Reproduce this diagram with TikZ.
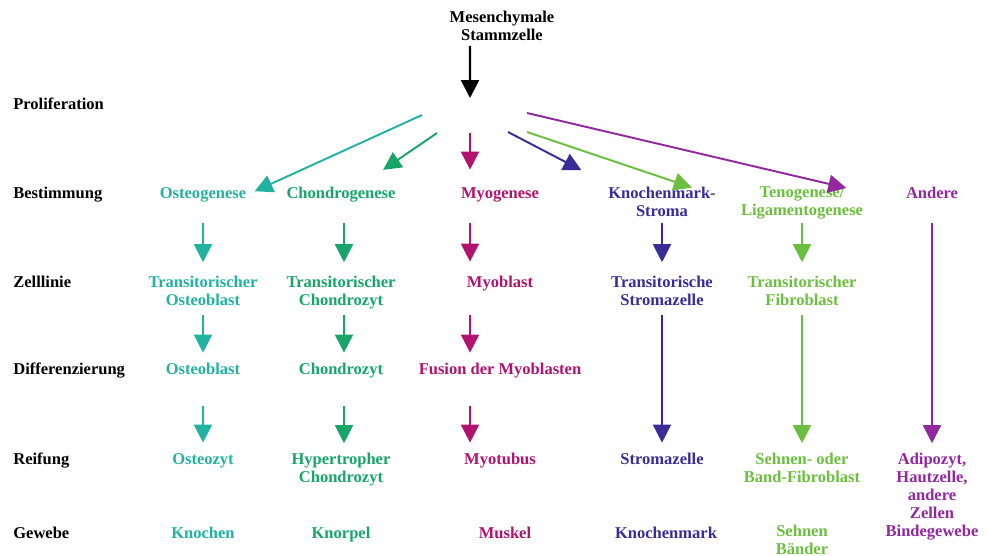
\documentclass[tikz,border=0pt]{standalone}
\usepackage{fontspec}
\setmainfont{Liberation Serif}
\usetikzlibrary{arrows.meta}
\definecolor{OstTeal}{HTML}{22B2A2}
\definecolor{ChoGreen}{HTML}{18A56A}
\definecolor{MyoRed}{HTML}{B0146F}
\definecolor{KmBlue}{HTML}{3A2C98}
\definecolor{TenGreen}{HTML}{6CBF3E}
\definecolor{AndPurple}{HTML}{9228A0}

\tikzset{
  stage/.style={font=\fontsize{9.4}{10.25}\selectfont\bfseries,inner sep=0pt,align=center,
    yshift=-0.04cm,execute at begin node=\strut,execute at end node=\strut},
  rowlabel/.style={stage,anchor=west},
  arr/.style={line width=1.1pt,-{Triangle[length=0.36cm,width=0.36cm]}},
}

\begin{document}
\begin{tikzpicture}[x=0.02cm,y=-0.02cm]
\path[use as bounding box] (0,0) rectangle (987,555);
% stages
\node[rowlabel] (lProl) at (13,104) {Proliferation};
\node[rowlabel] (lBest) at (13,193) {Bestimmung};
\node[rowlabel] (lZell) at (13,282) {Zelllinie};
\node[rowlabel] (lDiff) at (13,369) {Differenzierung};
\node[rowlabel] (lReif) at (13,459) {Reifung};
\node[rowlabel] (lGew) at (13,533) {Gewebe};

\node[stage] (stem) at (502,26) {Mesenchymale\\Stammzelle};
\coordinate (hub) at (470,98);
\draw[arr,line width=1.3pt] ([xshift=-0.64cm]stem.south) -- (hub);

% Bestimmung
\node[stage,OstTeal] (osteo) at (203,193) {Osteogenese};
\node[stage,ChoGreen] (chondro) at (341,193) {Chondrogenese};
\node[stage,MyoRed] (myo) at (500,193) {Myogenese};
\node[stage,KmBlue] (kmstroma) at (662,202) {Knochenmark-\\Stroma};
\node[stage,TenGreen] (teno) at (802,202) {Tenogenese/\\Ligamentogenese};
\node[stage,AndPurple] (andere) at (932,193) {Andere};

% Zelllinie
\node[stage,OstTeal] (osteoZ) at (203,291) {Transitorischer\\Osteoblast};
\node[stage,ChoGreen] (chondroZ) at (341,291) {Transitorischer\\Chondrozyt};
\node[stage,MyoRed] (myoZ) at (500,282) {Myoblast};
\node[stage,KmBlue] (kmZ) at (662,291) {Transitorische\\Stromazelle};
\node[stage,TenGreen] (tenoZ) at (802,291) {Transitorischer\\Fibroblast};

% Differenzierung
\node[stage,OstTeal] (osteoD) at (203,369) {Osteoblast};
\node[stage,ChoGreen] (chondroD) at (341,369) {Chondrozyt};
\node[stage,MyoRed] (myoD) at (500,369) {Fusion der Myoblasten};

% Reifung
\node[stage,OstTeal] (osteoR) at (203,459) {Osteozyt};
\node[stage,ChoGreen] (chondroR) at (341,468) {Hypertropher\\Chondrozyt};
\node[stage,MyoRed] (myoR) at (500,459) {Myotubus};
\node[stage,KmBlue] (kmR) at (662,459) {Stromazelle};
\node[stage,TenGreen] (tenoR) at (802,468) {Sehnen- oder\\Band-Fibroblast};
\node[stage,AndPurple] (andR) at (932,495) {Adipozyt,\\Hautzelle,\\andere\\Zellen\\Bindegewebe};

% Gewebe
\node[stage,OstTeal] (osteoG) at (203,533) {Knochen};
\node[stage,ChoGreen] (chondroG) at (341,533) {Knorpel};
\node[stage,MyoRed] (myoG) at (505,533) {Muskel};
\node[stage,KmBlue] (kmG) at (666,533) {Knochenmark};
\node[stage,TenGreen] (tenoG) at (802,540) {Sehnen\\B\"ander};

% Proliferation
\coordinate (pOst) at (422,115);
\coordinate (pCho) at (437,133);
\coordinate (pMyo) at (470,133);
\coordinate (pKm) at (508,132);
\coordinate (pTen) at (527,132);
\coordinate (pAnd) at (527,113);
\draw[arr,OstTeal,shorten >=0.18cm] (pOst) -- (osteo.east);
\draw[arr,ChoGreen,shorten >=0.56cm] (pCho) -- ([xshift=0.38cm]chondro.north);
\draw[arr,MyoRed,shorten >=0.32cm] (pMyo) -- ([xshift=-0.6cm]myo.north);
\draw[arr,KmBlue,shorten >=0.69cm] (pKm) -- ([xshift=-1.0cm]kmstroma.north);
\draw[arr,TenGreen,shorten >=1.03cm] (pTen) -- (teno.west);
\draw[arr,AndPurple,shorten >=0.35cm] (pAnd) -- ([yshift=0.24cm]teno.east);

% Bestimmung -> Zelllinie
\draw[arr,OstTeal,shorten <=0.38cm,shorten >=0.26cm] (osteo.south) -- (osteoZ.north);
\draw[arr,ChoGreen,shorten <=0.38cm,shorten >=0.26cm] ([xshift=0.06cm]chondro.south) -- ([xshift=0.06cm]chondroZ.north);
\draw[arr,MyoRed,shorten <=0.38cm,shorten >=0.26cm] ([xshift=-0.6cm]myo.south) -- ([xshift=-0.6cm]myoZ.north);
\draw[arr,KmBlue,shorten <=0.02cm,shorten >=0.26cm] (kmstroma.south) -- (kmZ.north);
\draw[arr,TenGreen,shorten <=0.02cm,shorten >=0.26cm] (teno.south) -- (tenoZ.north);
\draw[arr,AndPurple,shorten <=0.38cm,shorten >=0.18cm] (andere.south) -- (andR.north);

% Zelllinie -> Differenzierung
\draw[arr,OstTeal,shorten <=0.08cm,shorten >=0.18cm] (osteoZ.south) -- (osteoD.north);
\draw[arr,ChoGreen,shorten <=0.08cm,shorten >=0.18cm] ([xshift=0.06cm]chondroZ.south) -- ([xshift=0.06cm]chondroD.north);
\draw[arr,MyoRed,shorten <=0.43cm,shorten >=0.18cm] ([xshift=-0.6cm]myoZ.south) -- ([xshift=-0.6cm]myoD.north);
\draw[arr,KmBlue,shorten <=0.08cm,shorten >=0.18cm] (kmZ.south) -- (kmR.north);
\draw[arr,TenGreen,shorten <=0.08cm,shorten >=0.18cm] (tenoZ.south) -- (tenoR.north);

% Differenzierung -> Reifung
\draw[arr,OstTeal,shorten <=0.51cm,shorten >=0.18cm] (osteoD.south) -- (osteoR.north);
\draw[arr,ChoGreen,shorten <=0.51cm,shorten >=0.18cm] ([xshift=0.06cm]chondroD.south) -- ([xshift=0.06cm]chondroR.north);
\draw[arr,MyoRed,shorten <=0.51cm,shorten >=0.18cm] ([xshift=-0.6cm]myoD.south) -- ([xshift=-0.6cm]myoR.north);
\end{tikzpicture}
\end{document}
